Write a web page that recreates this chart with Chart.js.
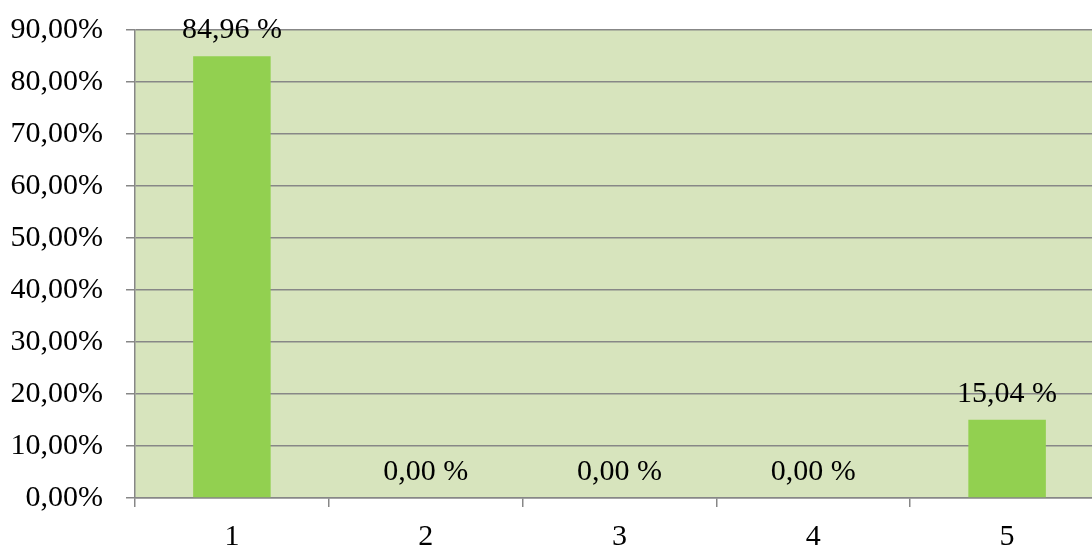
<!DOCTYPE html>
<html>
<head>
<meta charset="utf-8">
<script src="https://cdn.jsdelivr.net/npm/chart.js@4.4.1/dist/chart.umd.min.js"></script>
<style>
  html, body { margin: 0; padding: 0; background: #ffffff; overflow: hidden; }
  #wrap { position: absolute; left: 0; top: 0; width: 1104px; height: 548px; }
</style>
</head>
<body>
<div id="wrap"><canvas id="chart" width="1104" height="548"></canvas></div>
<script>
// Categories and share of answers (percent)
const categories = ['1', '2', '3', '4', '5'];
const shares = [84.96, 0.00, 0.00, 0.00, 15.04];
const yTicks = [0, 10, 20, 30, 40, 50, 60, 70, 80, 90];

const FONT = '"Liberation Serif", "Times New Roman", serif';
const GRID = '#878787';

function commaFixed(v) {
  return v.toFixed(2).replace('.', ',');
}

// Light green plot background
const plotBackground = {
  id: 'plotBackground',
  beforeDraw(chart) {
    const { ctx, chartArea: a } = chart;
    ctx.save();
    ctx.fillStyle = '#D7E4BD';
    ctx.fillRect(a.left, a.top, a.right - a.left, a.bottom - a.top);
    ctx.restore();
  }
};

// Value labels above every bar
const valueLabels = {
  id: 'valueLabels',
  afterDatasetsDraw(chart) {
    const { ctx } = chart;
    const meta = chart.getDatasetMeta(0);
    ctx.save();
    ctx.font = '30px ' + FONT;
    ctx.fillStyle = '#000000';
    ctx.textAlign = 'center';
    ctx.textBaseline = 'alphabetic';
    meta.data.forEach((bar, i) => {
      ctx.fillText(commaFixed(shares[i]) + ' %', bar.x, bar.y - 18);
    });
    ctx.restore();
  }
};

new Chart(document.getElementById('chart'), {
  type: 'bar',
  data: {
    labels: categories,
    datasets: [{
      data: shares,
      backgroundColor: '#92D050',
      borderWidth: 0,
      barPercentage: 0.4,
      categoryPercentage: 1.0
    }]
  },
  options: {
    responsive: false,
    animation: false,
    layout: { padding: { top: 30, right: 0, left: 0, bottom: 0 } },
    plugins: {
      legend: { display: false },
      tooltip: { enabled: false }
    },
    scales: {
      x: {
        offset: true,
        grid: {
          offset: true,
          drawOnChartArea: false,
          drawTicks: true,
          tickLength: 9,
          color: GRID,
          lineWidth: 1.5
        },
        border: { display: true, color: GRID, width: 1.5 },
        ticks: {
          color: '#000000',
          font: { family: FONT, size: 30 },
          padding: 12,
          maxRotation: 0
        },
        afterFit(scale) {
          scale.height = 50;
          scale.paddingLeft = 0;
          scale.paddingRight = 0;
        }
      },
      y: {
        min: 0,
        max: 90,
        afterBuildTicks(scale) {
          scale.ticks = yTicks.map(v => ({ value: v }));
        },
        grid: {
          color: GRID,
          lineWidth: 1.5,
          drawTicks: true,
          tickLength: 9
        },
        border: { display: true, color: GRID, width: 1.5 },
        ticks: {
          color: '#000000',
          font: { family: FONT, size: 30 },
          padding: 23,
          callback: (v) => commaFixed(v) + '%'
        },
        afterFit(scale) {
          scale.width = 135;
          scale.paddingTop = 0;
          scale.paddingBottom = 0;
        }
      }
    }
  },
  plugins: [plotBackground, valueLabels]
});
</script>
</body>
</html>
